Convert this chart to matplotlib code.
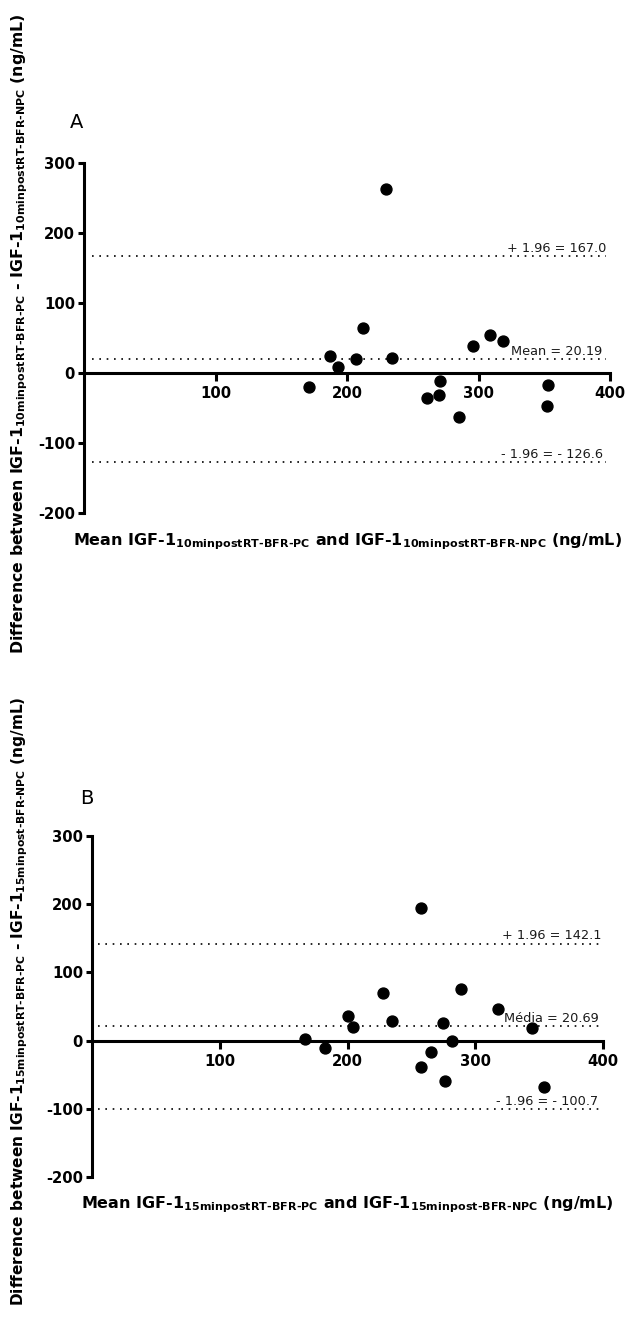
import matplotlib
matplotlib.use("Agg")
import matplotlib.pyplot as plt

plt.rcParams['font.family'] = ['DejaVu Sans']
plt.rcParams['mathtext.fontset'] = 'custom'
plt.rcParams['mathtext.rm'] = 'DejaVu Sans:bold'
plt.rcParams['mathtext.bf'] = 'DejaVu Sans:bold'
plt.rcParams['mathtext.it'] = 'DejaVu Sans:bold'

# ---- Data ----
a_mean = [230, 212, 187, 193, 207, 234, 171, 261, 270, 271, 285, 296, 309, 319, 353, 352]
a_diff = [263.6, 64, 25, 8.6, 21, 22, -20, -35, -31.6, -10.5, -62.7, 39.7, 55, 46.4, -16.3, -46.4]
a_bias = 20.19
a_upper = 167.0
a_lower = -126.6
a_labels = ["+ 1.96 = 167.0", "Mean = 20.19", "- 1.96 = - 126.6"]

b_mean = [257.6, 228, 200.6, 204.2, 234.6, 288.8, 275, 318, 344.7, 166.7, 281.5, 182.5, 265.6, 257.5, 276.4, 354]
b_diff = [194.3, 69.5, 36.7, 19.6, 28.9, 75.9, 25.5, 46.5, 19.1, 2.0, -1.0, -11.5, -16.5, -38.5, -59.5, -67.5]
b_bias = 20.69
b_upper = 142.1
b_lower = -100.7
b_labels = ["+ 1.96 = 142.1", "Média = 20.69", "- 1.96 = - 100.7"]

yticks = [-200, -100, 0, 100, 200, 300]
ytick_labels = ["-200", "-100", "0", "100", "200", "300"]
xticks = [100, 200, 300, 400]
xtick_labels = ["100", "200", "300", "400"]

xlabA = r"Mean IGF-1$_{\text{10minpostRT-BFR-PC}}$ and IGF-1$_{\text{10minpostRT-BFR-NPC}}$ (ng/mL)"
ylabA = r"Difference between IGF-1$_{\text{10minpostRT-BFR-PC}}$ - IGF-1$_{\text{10minpostRT-BFR-NPC}}$ (ng/mL)"
xlabB = r"Mean IGF-1$_{\text{15minpostRT-BFR-PC}}$ and IGF-1$_{\text{15minpost-BFR-NPC}}$ (ng/mL)"
ylabB = r"Difference between IGF-1$_{\text{15minpostRT-BFR-PC}}$ - IGF-1$_{\text{15minpost-BFR-NPC}}$ (ng/mL)"

W, H = 630, 1317
fig = plt.figure(figsize=(W / 100, H / 100), dpi=100)


def px_axes(l, t, r, b):
    return fig.add_axes([l / W, (H - b) / H, (r - l) / W, (b - t) / H])


def draw(ax, xs, ys, bias, upper, lower, labels, xline):
    ax.set_xlim(0, 400)
    ax.set_ylim(-200, 300)
    for sp in ['top', 'right']:
        ax.spines[sp].set_visible(False)
    ax.spines['bottom'].set_position(('data', 0))
    ax.spines['left'].set_linewidth(2.2)
    ax.spines['bottom'].set_linewidth(2.2)
    ax.spines['left'].set_capstyle('projecting')
    ax.set_yticks(yticks)
    ax.set_yticklabels(ytick_labels)
    ax.set_xticks(xticks)
    ax.set_xticklabels(xtick_labels)
    ax.tick_params(axis='y', direction='out', length=4.5, width=2.2, pad=2,
                   labelsize=10.7)
    ax.tick_params(axis='x', direction='out', length=6, width=2.2, pad=3.5,
                   labelsize=10.7)
    for lab in ax.get_xticklabels() + ax.get_yticklabels():
        lab.set_fontweight('bold')
    offsets = [0, -2.5, -2.5]
    for val, txt, off in zip([upper, bias, lower], labels, offsets):
        ax.hlines(val, xline[0], xline[1], colors='black', linewidth=1.2,
                  linestyles=(0, (1, 3.4)), zorder=2)
        ax.annotate(txt, xy=(xline[1], val), xytext=(off, 1), textcoords='offset points',
                    ha='right', va='bottom', fontsize=9.3, color='#1a1a1a')
    ax.scatter(xs, ys, s=62, color='black', zorder=4, clip_on=False)


axA = px_axes(84, 163.3, 610, 513.3)
draw(axA, a_mean, a_diff, a_bias, a_upper, a_lower, a_labels, (6, 397))
axB = px_axes(92, 836, 603, 1177)
draw(axB, b_mean, b_diff, b_bias, b_upper, b_lower, b_labels, (5, 399))

fig.text(77 / W, 1 - 123 / H, "A", fontsize=14, ha='center', va='center')
fig.text(87 / W, 1 - 799 / H, "B", fontsize=14, ha='center', va='center')

fig.text(347 / W, 1 - 542 / H, xlabA, fontsize=11.5, fontweight='bold', ha='center', va='center')
fig.text(347 / W, 1 - 1205 / H, xlabB, fontsize=11.5, fontweight='bold', ha='center', va='center')
fig.text(20 / W, 1 - 334 / H, ylabA, fontsize=11.3, fontweight='bold', ha='center', va='center',
         rotation=90)
fig.text(20 / W, 1 - 1001 / H, ylabB, fontsize=11.1, fontweight='bold', ha='center', va='center',
         rotation=90)

fig.savefig("out.png", dpi=100)
